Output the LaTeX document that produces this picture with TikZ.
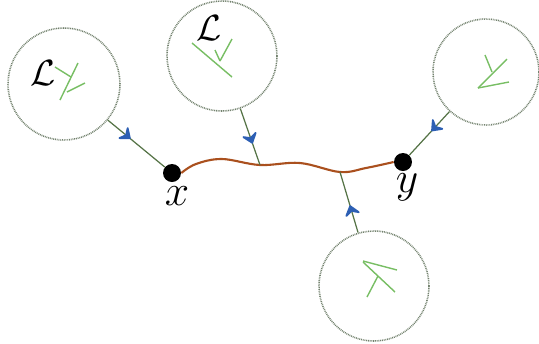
\documentclass[tikz,border=0pt]{standalone}
\usepackage{tikz}
\usetikzlibrary{arrows.meta,decorations.markings}
\definecolor{ringgray}{RGB}{115,130,110}
\definecolor{leafgreen}{RGB}{120,190,100}
\definecolor{linkgreen}{RGB}{85,115,70}
\definecolor{pathbrown}{RGB}{170,80,30}
\definecolor{tipblue}{RGB}{45,95,180}

\tikzset{
  ring/.style={circle, draw=ringgray, line width=0.9pt, dash pattern=on 0.5pt off 0.5pt, inner sep=0pt},
  endpt/.style={circle, fill=black, inner sep=0pt, minimum size=0.36cm},
  leaf/.style={draw=leafgreen, line width=0.8pt},
  link/.style={draw=linkgreen, line width=0.7pt},
  midarrow/.style={postaction={decorate, decoration={markings,
    mark=at position #1 with {\arrow{Stealth[length=7pt, width=11pt, inset=2.8pt, round, line width=1.6pt, color=tipblue]}}}}},
  bigsym/.style={font=\fontsize{23}{23}\selectfont},
  calsym/.style={font=\fontsize{21}{21}\selectfont},
}

\begin{document}
\begin{tikzpicture}[x=0.02cm,y=-0.02cm]
\useasboundingbox (0,0) rectangle (539,343);

% the four balls
\node[ring, minimum size=2.24cm] (c1) at (64,84) {};
\node[ring, minimum size=2.2cm] (c2) at (222,56) {};
\node[ring, minimum size=2.12cm] (c3) at (486,72) {};
\node[ring, minimum size=2.2cm] (c4) at (374,286) {};

% end points
\node[endpt] (x) at (172,173) {};
\node[endpt] (y) at (403,162) {};
\node[bigsym] (xl) at (177,196) {$x$};
\node[bigsym] (yl) at (407,187) {$y$};

% the path from x to y
\coordinate (j1) at (260,165);
\coordinate (j2) at (340,172);
\draw[pathbrown, line width=1.2pt] plot[smooth, tension=0.6] coordinates
  {(x.east) (196,164) (222,159) (j1) (300,163) (j2) (366,168) (y.west)};

% links from the balls
\draw[link, midarrow=0.4] (c1) -- (x);
\draw[link, midarrow=0.62] (c2) -- (j1);
\draw[link, midarrow=0.45] (c3) -- (y);
\draw[link, midarrow=0.45] (c4) -- (j2);

% labels
\node[calsym] (l1) at (43,73) {$\mathcal{L}$};
\node[calsym] (l2) at (209,28) {$\mathcal{L}$};

% little trees
\draw[leaf] (55,67) -- (71,77);
\draw[leaf] (78,63) -- (60,100);
\draw[leaf] (67,92) -- (85,83);

\draw[leaf] (192,43) -- (232,77);
\draw[leaf] (232,39) -- (220,61);
\draw[leaf] (215,50) -- (220,61);

\draw[leaf] (485,55) -- (492,72);
\draw[leaf] (507,59) -- (478,88);
\draw[leaf] (478,88) -- (509,82);

\draw[leaf] (363,261) -- (397,270);
\draw[leaf] (363,262) -- (395,292);
\draw[leaf] (378,276) -- (367,297);
\end{tikzpicture}
\end{document}
